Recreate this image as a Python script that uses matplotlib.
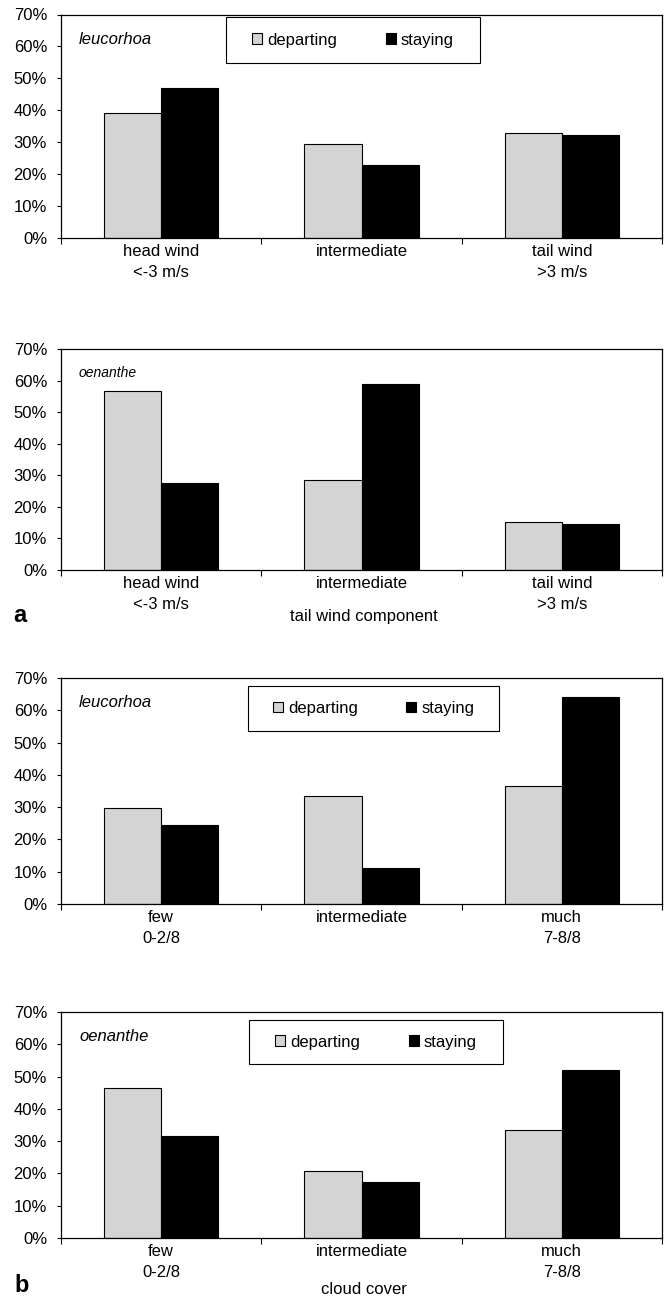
import matplotlib
matplotlib.use("Agg")
import matplotlib.pyplot as plt
from matplotlib.patches import Rectangle
import numpy as np
from matplotlib.ticker import FixedLocator, PercentFormatter

plt.rcParams['font.family'] = ['Liberation Sans', 'DejaVu Sans']

# data (percent)
wind_cats = ["head wind\n<-3 m/s", "intermediate", "tail wind\n>3 m/s"]
cloud_cats = ["few\n0-2/8", "intermediate", "much\n7-8/8"]

leu_wind_departing = [39.2, 29.3, 32.9]
leu_wind_staying = [46.9, 22.9, 32.2]
oen_wind_departing = [56.8, 28.5, 15.3]
oen_wind_staying = [27.6, 59.0, 14.5]

leu_cloud_departing = [29.8, 33.4, 36.4]
leu_cloud_staying = [24.5, 11.0, 64.1]
oen_cloud_departing = [46.6, 20.7, 33.5]
oen_cloud_staying = [31.6, 17.3, 51.9]

grey = '#d4d4d4'
W, H = 669, 1299

fig = plt.figure(figsize=(W / 100, H / 100), dpi=100)

# (top px, bottom px, species, cats, dep, stay, legend box in px or None, species font size)
panels = [
    (14.5, 238, 'leucorhoa', wind_cats, leu_wind_departing, leu_wind_staying, (226, 17, 480, 63), 12),
    (349, 570, 'oenanthe', wind_cats, oen_wind_departing, oen_wind_staying, None, 10),
    (678, 904, 'leucorhoa', cloud_cats, leu_cloud_departing, leu_cloud_staying, (248, 686, 499, 731), 12),
    (1012, 1238, 'oenanthe', cloud_cats, oen_cloud_departing, oen_cloud_staying, (249, 1020, 503, 1064), 12),
]

x_left, x_right = 61, 662
w = 0.286
x = np.arange(3)

for top, bot, species, cats, dep, stay, leg, fs in panels:
    ax = fig.add_axes([x_left / W, 1 - bot / H, (x_right - x_left) / W, (bot - top) / H])
    ax.bar(x - w / 2, dep, w, color=grey, edgecolor='black', linewidth=0.8, label='departing')
    ax.bar(x + w / 2, stay, w, color='black', edgecolor='black', linewidth=0.8, label='staying')
    ax.set_xlim(-0.5, 2.5)
    ax.set_ylim(0, 70)
    ax.set_yticks(np.arange(0, 71, 10))
    ax.yaxis.set_major_formatter(PercentFormatter(decimals=0))
    ax.set_xticks(x)
    ax.set_xticklabels(cats, linespacing=1.55)
    ax.xaxis.set_minor_locator(FixedLocator([-0.5, 0.5, 1.5, 2.5]))
    ax.tick_params(axis='x', which='major', length=0, pad=4, labelsize=12)
    ax.tick_params(axis='x', which='minor', length=4, width=0.8, direction='out')
    ax.tick_params(axis='y', length=3, width=0.8, direction='out', pad=7, labelsize=12)
    for s in ax.spines.values():
        s.set_linewidth(0.9)
    ax.text(0.03, 0.89, species, transform=ax.transAxes, style='italic',
            fontsize=fs, va='center', ha='left')
    if leg is not None:
        lx0, ly0, lx1, ly1 = leg
        bx = (lx0 - x_left) / (x_right - x_left)
        by = (bot - ly1) / (bot - top)
        bw = (lx1 - lx0) / (x_right - x_left)
        bh = (ly1 - ly0) / (bot - top)
        ax.add_patch(Rectangle((bx, by), bw, bh, transform=ax.transAxes,
                               facecolor='white', edgecolor='black',
                               linewidth=0.8, zorder=4))
        ax.legend(ncol=2, loc='center', bbox_to_anchor=(bx + bw / 2, by + bh / 2),
                  frameon=False, fontsize=12, handlelength=0.6,
                  handleheight=0.6, handletextpad=0.3,
                  columnspacing=2.9, borderaxespad=0)

fig.text(13 / W, 1 - 615 / H, 'a', fontsize=17, fontweight='bold', va='center', ha='left')
fig.text(364 / W, 1 - 617 / H, 'tail wind component', fontsize=12, va='center', ha='center')
fig.text(14 / W, 1 - 1286 / H, 'b', fontsize=17, fontweight='bold', va='center', ha='left')
fig.text(364 / W, 1 - 1289 / H, 'cloud cover', fontsize=12, va='center', ha='center')

fig.savefig('out.png', dpi=100)
